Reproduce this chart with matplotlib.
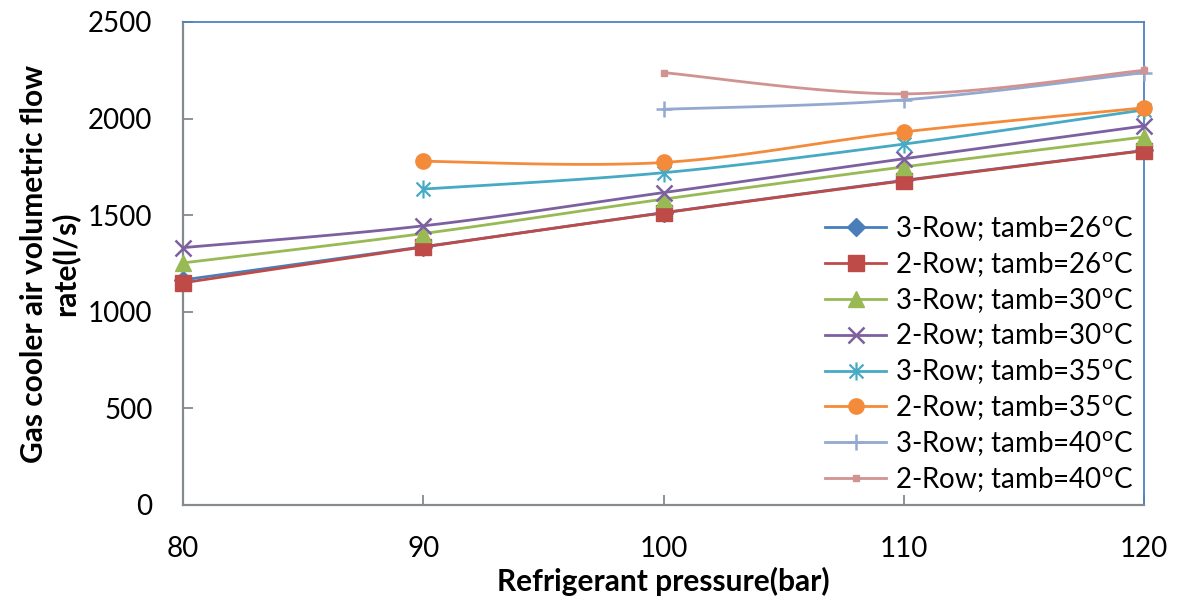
import numpy as np
import matplotlib
matplotlib.use("Agg")
import matplotlib.pyplot as plt
from matplotlib.path import Path

plt.rcParams['font.family'] = ['Lato', 'DejaVu Sans']
plt.rcParams['mathtext.fontset'] = 'custom'
plt.rcParams['mathtext.rm'] = 'Lato'
plt.rcParams['mathtext.it'] = 'Lato:italic'
plt.rcParams['mathtext.bf'] = 'Lato:bold'

pressure = [80, 90, 100, 110, 120]

labels = [
    "3-Row; tamb=26$^{\\mathrm{o}}$C",
    "2-Row; tamb=26$^{\\mathrm{o}}$C",
    "3-Row; tamb=30$^{\\mathrm{o}}$C",
    "2-Row; tamb=30$^{\\mathrm{o}}$C",
    "3-Row; tamb=35$^{\\mathrm{o}}$C",
    "2-Row; tamb=35$^{\\mathrm{o}}$C",
    "3-Row; tamb=40$^{\\mathrm{o}}$C",
    "2-Row; tamb=40$^{\\mathrm{o}}$C",
]

row3_t26 = [1165, 1337, 1513, 1680, 1835]
row2_t26 = [1150, 1335, 1512, 1678, 1834]
row3_t30 = [1253, 1405, 1583, 1750, 1905]
row2_t30 = [1332, 1445, 1617, 1792, 1962]
row3_t35 = [None, 1635, 1720, 1868, 2045]
row2_t35 = [None, 1779, 1773, 1931, 2056]
row3_t40 = [None, None, 2048, 2097, 2238]
row2_t40 = [None, None, 2238, 2128, 2250]

series = [row3_t26, row2_t26, row3_t30, row2_t30, row3_t35, row2_t35, row3_t40, row2_t40]

colors = ['#4A7EBB', '#BE4B48', '#98B954', '#7D60A0', '#46AAC5', '#F38B3A', '#93A9CF', '#D19392']

star = Path([(-1, -1), (1, 1), (-1, 1), (1, -1), (0, -1.3), (0, 1.3)],
            [Path.MOVETO, Path.LINETO, Path.MOVETO, Path.LINETO, Path.MOVETO, Path.LINETO])

markers = ['D', 's', '^', 'x', star, 'o', '+', 's']
msizes = [9, 11, 11, 11, 13, 11, 12, 5]
mew = [1, 1, 1, 1.8, 1.6, 1, 1.8, 1]


def smooth(xs, ys, n=30):
    # Excel-like smoothing (Bezier with 1/6 tension)
    xs = np.asarray(xs, float)
    ys = np.asarray(ys, float)
    if len(xs) < 3:
        return xs, ys
    px, py = [], []
    m = len(xs)
    for i in range(m - 1):
        i0 = max(i - 1, 0)
        i3 = min(i + 2, m - 1)
        p0 = np.array([xs[i], ys[i]])
        p1 = np.array([xs[i + 1], ys[i + 1]])
        c1 = p0 + (p1 - np.array([xs[i0], ys[i0]])) / 6.0
        c2 = p1 - (np.array([xs[i3], ys[i3]]) - p0) / 6.0
        t = np.linspace(0, 1, n)[:, None]
        b = ((1 - t) ** 3) * p0 + 3 * ((1 - t) ** 2) * t * c1 + 3 * (1 - t) * t ** 2 * c2 + t ** 3 * p1
        if i > 0:
            b = b[1:]
        px.extend(b[:, 0])
        py.extend(b[:, 1])
    return np.array(px), np.array(py)


fig = plt.figure(figsize=(11.81, 6.06), dpi=100)
ax = fig.add_axes([0.155, 0.1667, 0.8137, 0.797])

for vals, lab, c, mk, ms, mw in zip(series, labels, colors, markers, msizes, mew):
    xs = [p for p, v in zip(pressure, vals) if v is not None]
    ys = [v for v in vals if v is not None]
    sx, sy = smooth(xs, ys)
    ax.plot(sx, sy, color=c, lw=2.0, zorder=2, clip_on=False)
    ax.plot(xs, ys, linestyle='none', marker=mk, color=c, markersize=ms,
            markeredgewidth=mw, markeredgecolor=c, zorder=3, clip_on=False)
    ax.plot([], [], color=c, lw=2.0, marker=mk, markersize=ms,
            markeredgewidth=mw, markeredgecolor=c, label=lab)

ax.set_xlim(80, 120)
ax.set_ylim(0, 2500)
ax.set_xticks([80, 90, 100, 110, 120])
ax.set_yticks([0, 500, 1000, 1500, 2000, 2500])

gray = '#868A8F'
blue = '#4F81BD'
ax.spines['left'].set_color(gray)
ax.spines['bottom'].set_color(gray)
ax.spines['left'].set_linewidth(1.6)
ax.spines['bottom'].set_linewidth(1.6)
ax.spines['top'].set_color(blue)
ax.spines['right'].set_color(blue)
ax.spines['top'].set_linewidth(1.3)
ax.spines['right'].set_linewidth(1.3)

ax.tick_params(axis='both', direction='in', length=7, width=1.3, color=gray,
               labelsize=20, pad=22, top=False, right=False)

ax.set_xlabel("Refrigerant pressure(bar)", fontsize=21.5, fontweight='bold', labelpad=4)
ax.set_ylabel("Gas cooler air volumetric flow\nrate(l/s)", fontsize=21.5, fontweight='bold',
              labelpad=6, linespacing=1.1)

leg = ax.legend(loc='lower right', bbox_to_anchor=(1.0, 0.0), frameon=False, fontsize=20,
                handlelength=2.2, handletextpad=0.3, labelspacing=0.25, borderaxespad=0.0)

fig.savefig("out.png", dpi=100)
